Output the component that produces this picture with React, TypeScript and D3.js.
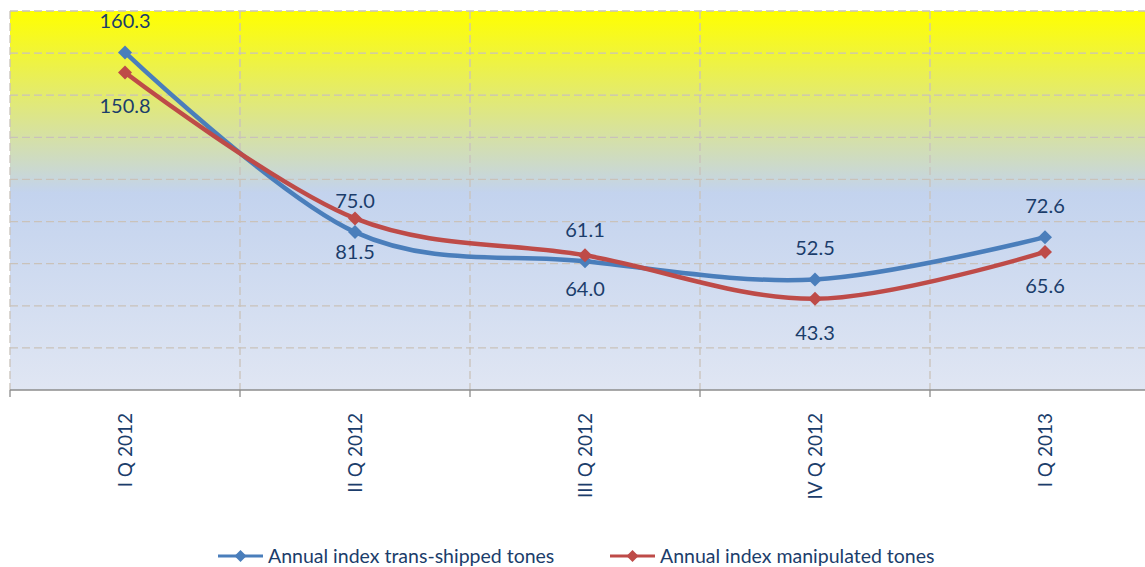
import React from 'react';
import * as d3 from 'd3';

const categories = ['I Q 2012', 'II Q 2012', 'III Q 2012', 'IV Q 2012', 'I Q 2013'];
const transShipped = [160.3, 75.0, 61.1, 52.5, 72.6];
const manipulated = [150.8, 81.5, 64.0, 43.3, 65.6];
const yTicks = [0, 20, 40, 60, 80, 100, 120, 140, 160, 180];

const seriesList = [
  { name: 'Annual index trans-shipped tones', values: transShipped, color: '#4a7ebb', labelPos: 'above' },
  { name: 'Annual index manipulated tones', values: manipulated, color: '#be4b48', labelPos: 'below' },
];

const W = 1145;
const H = 567;
const textColor = '#1b3d6b';
const font = 'Lato, Calibri, sans-serif';

export default function App() {
  // plot area runs a bit past the right edge of the picture, like the original
  const left = 10, right = 1160, top = 11, bottom = 390;

  const x = d3.scaleBand().domain(categories).range([left, right]).padding(0);
  const y = d3.scaleLinear().domain([0, 180]).range([bottom, top]);
  const cx = (c: string) => (x(c) as number) + x.bandwidth() / 2;

  const line = d3.line<number>()
    .x((_, i) => cx(categories[i]))
    .y(d => y(d))
    .curve(d3.curveCardinal.tension(0));

  const diamond = (px: number, py: number, r: number) =>
    `M${px},${py - r}L${px + r},${py}L${px},${py + r}L${px - r},${py}Z`;

  const edges = categories.map(c => x(c) as number);

  const legendItems = [
    { lineX: 218, textX: 268 },
    { lineX: 610, textX: 660 },
  ];

  return (
    <svg width={W} height={H} style={{ position: 'absolute', left: 0, top: 0, background: '#fff' }}>
      <defs>
        <linearGradient id="bg" x1="0" y1="0" x2="0" y2="1">
          <stop offset="0" stopColor="#ffff00" />
          <stop offset="0.48" stopColor="#c3d3ee" />
          <stop offset="1" stopColor="#e0e6f3" />
        </linearGradient>
      </defs>

      <rect x={left} y={top} width={right - left} height={bottom - top} fill="url(#bg)" />

      {/* horizontal gridlines */}
      {yTicks.filter(t => t > 0).map(t => (
        <line key={'h' + t} x1={left} x2={right} y1={y(t)} y2={y(t)}
          stroke="#c9c2ba" strokeWidth={1.3} strokeDasharray="8,4" />
      ))}

      {/* vertical gridlines at category edges */}
      {edges.map((e, i) => (
        <line key={'v' + i} x1={e} x2={e} y1={top} y2={bottom}
          stroke="#c9c2ba" strokeWidth={1.3} strokeDasharray="8,4" />
      ))}

      {/* x axis */}
      <line x1={left} x2={right} y1={bottom} y2={bottom} stroke="#8c8c8c" strokeWidth={1.5} />
      {edges.map((e, i) => (
        <line key={'t' + i} x1={e} x2={e} y1={bottom} y2={bottom + 7} stroke="#8c8c8c" strokeWidth={1.3} />
      ))}
      {categories.map(c => (
        <text key={c} transform={`translate(${cx(c) + 7},${413}) rotate(-90)`}
          textAnchor="end" fontFamily={font} fontSize={19} fill={textColor}>{c}</text>
      ))}

      {/* series */}
      {seriesList.map(s => (
        <g key={s.name}>
          <path d={line(s.values) as string} fill="none" stroke={s.color} strokeWidth={4.5} />
          {s.values.map((v, i) => (
            <path key={i} d={diamond(cx(categories[i]), y(v), 7)} fill={s.color} />
          ))}
          {s.values.map((v, i) => (
            <text key={'l' + i} x={cx(categories[i])}
              y={s.labelPos === 'above' ? y(v) - 31 : y(v) + 34}
              dy="0.35em" textAnchor="middle" fontFamily={font} fontSize={20} fill={textColor}>
              {v.toFixed(1)}
            </text>
          ))}
        </g>
      ))}

      {/* legend */}
      {seriesList.map((s, i) => (
        <g key={'lg' + i}>
          <line x1={legendItems[i].lineX} x2={legendItems[i].lineX + 45} y1={556} y2={556}
            stroke={s.color} strokeWidth={3} />
          <path d={diamond(legendItems[i].lineX + 22.5, 556, 6)} fill={s.color} />
          <text x={legendItems[i].textX} y={556} dy="0.35em" fontFamily={font} fontSize={19.5} fill={textColor}>
            {s.name}
          </text>
        </g>
      ))}
    </svg>
  );
}
